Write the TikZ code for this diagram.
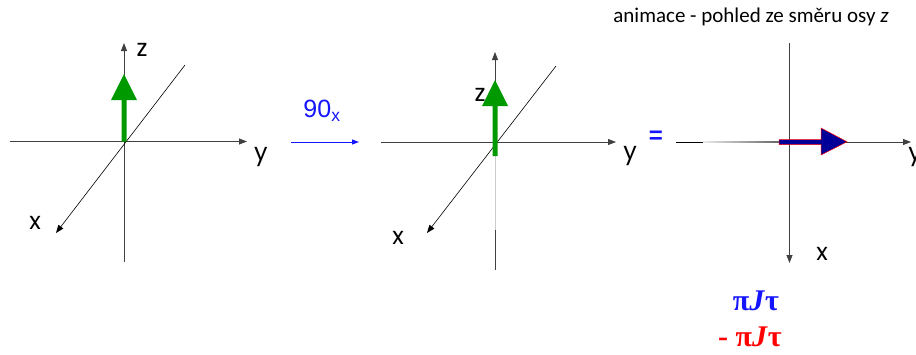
\documentclass[tikz,border=0pt]{standalone}
\usepackage{fontspec}
\setmainfont{Liberation Serif}
\newfontfamily\axfont{Poppins}
\newfontfamily\lblfont{Liberation Sans}
\newfontfamily\ttlfont{Carlito}
\usetikzlibrary{arrows.meta}
\definecolor{vecgreen}{RGB}{0,153,0}
\definecolor{vecblue}{RGB}{0,0,153}
\definecolor{lblblue}{RGB}{20,20,255}
\definecolor{lblred}{RGB}{255,0,0}
\tikzset{
  axis/.style={line width=0.8pt, draw=black!75, -{Triangle[length=8pt,width=6pt]}},
  axisplain/.style={line width=0.8pt, draw=black!75},
  diag/.style={line width=0.6pt, draw=black},
  axlabel/.style={font=\axfont\fontsize{24}{24}\selectfont, inner sep=0pt},
}
\begin{document}
\begin{tikzpicture}[x=1pt,y=-1pt]
\useasboundingbox (0,0) rectangle (916,354);
% ---------- panel 1 ----------
\coordinate (o1) at (124,141.5);
\coordinate (h1l) at (10,141.5);
\coordinate (h1r) at (247,141.5);
\coordinate (v1t) at (124,43);
\coordinate (v1b) at (124,262);
\coordinate (d1t) at (185,65);
\coordinate (d1b) at (56,233);
\draw[axis] (h1l) -- (h1r);
\draw[axis] (v1b) -- (v1t);
\draw[diag,-{Triangle[length=8pt,width=6pt]}] (d1t) -- (d1b);
\fill[vecgreen] (121.5,141.5) -- (121.5,100) -- (111,100) -- (124,74) -- (137,100) -- (126.5,100) -- (126.5,141.5) -- cycle;
\node[axlabel] (z1) at (142,50) {z};
\node[axlabel] (y1) at (261,157) {y};
\node[axlabel] (x1) at (35,223) {x};
% ---------- rotation arrow ----------
\coordinate (ra) at (291,142);
\coordinate (rb) at (359,142);
\draw[draw=lblblue, line width=1pt, -{Triangle[length=7pt,width=5pt]}] (ra) -- (rb);
\node[text=lblblue, font=\lblfont\fontsize{25}{25}\selectfont, inner sep=0pt] (rot) at (322,111) {90\textsubscript{x}};
% ---------- panel 2 ----------
\coordinate (o2) at (495,142);
\coordinate (h2l) at (381,142);
\coordinate (h2r) at (616,142);
\coordinate (v2t) at (495,52);
\coordinate (v2g) at (495,150);
\coordinate (v2m) at (495,230);
\coordinate (v2b) at (495,270);
\coordinate (d2t) at (556,66);
\coordinate (d2b) at (427,233);
\draw[axis] (h2l) -- (h2r);
\draw[axis] (v2g) -- (v2t);
\draw[line width=0.8pt, draw=black!20] (v2g) -- (v2m);
\draw[axisplain] (v2m) -- (v2b);
\draw[diag,-{Triangle[length=8pt,width=6pt]}] (d2t) -- (d2b);
\node[axlabel] (z2) at (480,95) {z};
\fill[vecgreen] (492.5,156) -- (492.5,106) -- (482,106) -- (495,80) -- (508,106) -- (497.5,106) -- (497.5,156) -- cycle;
\node[axlabel] (y2) at (630,156) {y};
\node[axlabel] (x2) at (398,238) {x};
% ---------- equals ----------
\node[text=lblblue, font=\lblfont\bfseries\fontsize{24}{24}\selectfont, inner sep=0pt] (eq) at (656,137) {=};
% ---------- panel 3 ----------
\coordinate (o3) at (789.5,142);
\coordinate (h3l) at (676,142);
\coordinate (h3m) at (703,142);
\coordinate (h3n) at (779,142);
\coordinate (h3r) at (911,142);
\coordinate (v3t) at (789.5,43);
\coordinate (v3b) at (789.5,263);
\draw[axisplain, draw=black] (h3l) -- (h3m);
\shade[left color=black!8, right color=black!60] (703,141.6) rectangle (779,142.4);
\draw[axis] (h3n) -- (h3r);
\draw[axis] (v3t) -- (v3b);
\filldraw[fill=vecblue, draw=lblred, line width=0.5pt] (779,139.5) -- (821,139.5) -- (821,128) -- (847,141.8) -- (821,155) -- (821,144.5) -- (779,144.5) -- cycle;
\node[axlabel] (y3) at (915,157) {y};
\node[axlabel] (x3) at (822,254) {x};
\node[font=\ttlfont\fontsize{21}{22}\selectfont, inner sep=0pt] (title) at (751,17) {animace - pohled ze směru osy \textit{z}};
% ---------- angle labels ----------
\node[text=lblblue, font=\bfseries\fontsize{30}{30}\selectfont, inner sep=0pt] (ang1) at (756,301) {π\textit{J}τ};
\node[text=lblred, font=\bfseries\fontsize{30}{30}\selectfont, inner sep=0pt] (ang2) at (750,337) {- π\textit{J}τ};
\end{tikzpicture}
\end{document}
